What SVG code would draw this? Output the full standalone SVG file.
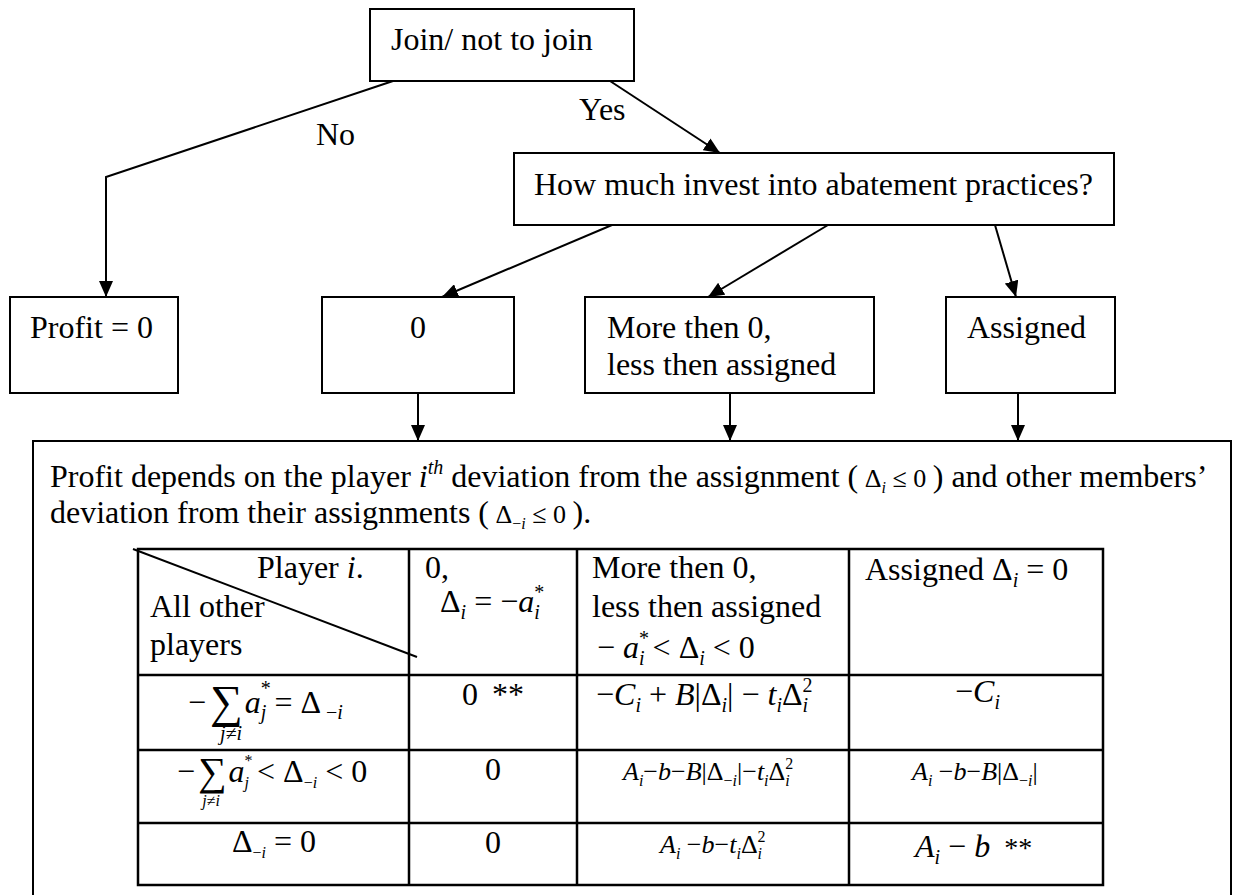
<svg xmlns="http://www.w3.org/2000/svg" width="1236" height="895" viewBox="0 0 1236 895">
<defs>
<style>
.t{font-family:"Liberation Serif","Times New Roman",serif;font-size:32px;fill:#000}
.box{fill:#fff;stroke:#000;stroke-width:2}
.ln{fill:none;stroke:#000;stroke-width:2}
.tb{fill:none;stroke:#000;stroke-width:2.5}
.i{font-style:italic}
.s{font-size:20px}
.m{font-size:26px}
.ms{font-size:16px}
</style>
<marker id="ah" viewBox="0 0 16 14" refX="16" refY="7" markerWidth="16" markerHeight="14" orient="auto" markerUnits="userSpaceOnUse"><path d="M0,0 L16,7 L0,14 z" fill="#000"/></marker>
</defs>
<rect width="1236" height="895" fill="#fff"/>

<g id="connectors">
<polyline class="ln" points="393,81 106,177 106,297" marker-end="url(#ah)"/>
<line class="ln" x1="610" y1="81" x2="720" y2="153" marker-end="url(#ah)"/>
<line class="ln" x1="612" y1="225" x2="442" y2="297" marker-end="url(#ah)"/>
<line class="ln" x1="828" y1="225" x2="708" y2="297" marker-end="url(#ah)"/>
<line class="ln" x1="995" y1="225" x2="1016" y2="297" marker-end="url(#ah)"/>
<line class="ln" x1="418" y1="393" x2="418" y2="441" marker-end="url(#ah)"/>
<line class="ln" x1="730" y1="393" x2="730" y2="441" marker-end="url(#ah)"/>
<line class="ln" x1="1018" y1="393" x2="1018" y2="441" marker-end="url(#ah)"/>
<text class="t" x="316" y="145">No</text>
<text class="t" x="579" y="120">Yes</text>
</g>

<g id="join"><rect class="box" x="370" y="9" width="264" height="72"/><text class="t" x="391" y="50">Join/ not to join</text></g>
<g id="invest"><rect class="box" x="514" y="153" width="600" height="72"/><text class="t" x="534" y="195">How much invest into abatement practices?</text></g>
<g id="profit0"><rect class="box" x="10" y="297" width="168" height="96"/><text class="t" x="30" y="338">Profit = 0</text></g>
<g id="zero"><rect class="box" x="322" y="297" width="192" height="96"/><text class="t" x="418" y="338" text-anchor="middle">0</text></g>
<g id="more"><rect class="box" x="585" y="297" width="289" height="96"/><text class="t" x="607" y="338">More then 0,</text><text class="t" x="607" y="375">less then assigned</text></g>
<g id="assigned"><rect class="box" x="946" y="297" width="169" height="96"/><text class="t" x="967" y="338">Assigned</text></g>

<g id="result">
<rect class="box" x="33" y="441" width="1198" height="480"/>
<text class="t" x="50" y="487">Profit depends on the player <tspan class="i">i</tspan><tspan class="i s" dy="-13">th</tspan><tspan dy="13"> deviation from the assignment (</tspan><tspan class="m"> Δ</tspan><tspan class="i ms" dy="6">i</tspan><tspan class="m" dy="-6"> ≤ 0 </tspan>) and other members’</text>
<text class="t" x="50" y="523">deviation from their assignments (<tspan class="m"> Δ</tspan><tspan class="ms" dy="6">−</tspan><tspan class="i ms">i</tspan><tspan class="m" dy="-6"> ≤ 0 </tspan>).</text>

<g id="table">
<rect class="tb" x="138" y="549" width="965" height="336"/>
<line class="tb" x1="409" y1="549" x2="409" y2="885"/>
<line class="tb" x1="577" y1="549" x2="577" y2="885"/>
<line class="tb" x1="849" y1="549" x2="849" y2="885"/>
<line class="tb" x1="138" y1="675" x2="1103" y2="675"/>
<line class="tb" x1="138" y1="750" x2="1103" y2="750"/>
<line class="tb" x1="138" y1="823" x2="1103" y2="823"/>
<line class="ln" x1="133" y1="549" x2="417" y2="657"/>

<text class="t" x="257" y="578">Player <tspan class="i">i</tspan>.</text>
<text class="t" x="150" y="617">All other</text>
<text class="t" x="150" y="655">players</text>

<text class="t" x="425" y="578">0,</text>
<text class="t" x="440" y="612">Δ<tspan class="i s" dy="7">i</tspan><tspan dy="-7"> = −</tspan><tspan class="i">a</tspan><tspan class="s" dy="-13">*</tspan><tspan class="i s" dx="-10" dy="20">i</tspan></text>

<text class="t" x="592" y="578">More then 0,</text>
<text class="t" x="592" y="617">less then assigned</text>
<text class="t" x="597" y="658">− <tspan class="i">a</tspan><tspan class="s" dy="-13">*</tspan><tspan class="i s" dx="-10" dy="20">i</tspan><tspan dy="-7"> &lt; Δ</tspan><tspan class="i s" dy="7">i</tspan><tspan dy="-7"> &lt; 0</tspan></text>

<text class="t" x="865" y="580">Assigned Δ<tspan class="i s" dy="7">i</tspan><tspan dy="-7"> = 0</tspan></text>

<text class="t" x="188" y="713">−<tspan font-size="46" dy="4" dx="4">∑</tspan><tspan class="i" dy="-4" dx="2">a</tspan><tspan class="s" dy="-18">*</tspan><tspan class="i s" dx="-10" dy="24">j</tspan><tspan dy="-6"> = Δ</tspan><tspan class="s" dy="6"> −</tspan><tspan class="i s">i</tspan></text>
<text class="t i s" x="231" y="740" text-anchor="middle">j≠i</text>
<text class="t" x="462" y="705">0 <tspan dx="6">**</tspan></text>
<text class="t" x="596" y="705">−<tspan class="i">C</tspan><tspan class="i s" dy="7">i</tspan><tspan dy="-7"> + </tspan><tspan class="i">B</tspan>|Δ<tspan class="i s" dy="7">i</tspan><tspan dy="-7">| − </tspan><tspan class="i">t</tspan><tspan class="i s" dy="7">i</tspan><tspan dy="-7">Δ</tspan><tspan class="s" dy="-13">2</tspan><tspan class="i s" dx="-10" dy="20">i</tspan></text>
<text class="t" x="955" y="702" font-size="30">−<tspan class="i">C</tspan><tspan class="i s" dy="7">i</tspan></text>

<text class="t" x="177" y="782" font-size="28">−<tspan font-size="40" dy="3" dx="3">∑</tspan><tspan class="i" dy="-3" dx="2">a</tspan><tspan class="ms" dy="-16">*</tspan><tspan class="i ms" dx="-8" dy="22">j</tspan><tspan dy="-6"> &lt; Δ</tspan><tspan class="ms" dy="6">−</tspan><tspan class="i ms">i</tspan><tspan dy="-6"> &lt; 0</tspan></text>
<text class="t i ms" x="211" y="806" text-anchor="middle">j≠i</text>
<text class="t" x="485" y="780">0</text>
<text class="t m" x="623" y="780"><tspan class="i">A</tspan><tspan class="i ms" dy="6">i</tspan><tspan dy="-6">−</tspan><tspan class="i">b</tspan>−<tspan class="i">B</tspan>|Δ<tspan class="ms" dy="6">−</tspan><tspan class="i ms">i</tspan><tspan dy="-6">|−</tspan><tspan class="i">t</tspan><tspan class="i ms" dy="6">i</tspan><tspan dy="-6">Δ</tspan><tspan class="ms" dy="-11">2</tspan><tspan class="i ms" dx="-8" dy="17">i</tspan></text>
<text class="t m" x="912" y="780"><tspan class="i">A</tspan><tspan class="i ms" dy="6">i</tspan><tspan dy="-6"> −</tspan><tspan class="i">b</tspan>−<tspan class="i">B</tspan>|Δ<tspan class="ms" dy="6">−</tspan><tspan class="i ms">i</tspan><tspan dy="-6">|</tspan></text>

<text class="t" x="232" y="852" font-size="28">Δ<tspan class="ms" dy="6">−</tspan><tspan class="i ms">i</tspan><tspan dy="-6"> = 0</tspan></text>
<text class="t" x="485" y="853">0</text>
<text class="t m" x="660" y="853"><tspan class="i">A</tspan><tspan class="i ms" dy="6">i</tspan><tspan dy="-6"> −</tspan><tspan class="i">b</tspan>−<tspan class="i">t</tspan><tspan class="i ms" dy="6">i</tspan><tspan dy="-6">Δ</tspan><tspan class="ms" dy="-11">2</tspan><tspan class="i ms" dx="-8" dy="17">i</tspan></text>
<text class="t" x="915" y="857"><tspan class="i">A</tspan><tspan class="i s" dy="7">i</tspan><tspan dy="-7"> − </tspan><tspan class="i">b</tspan><tspan dx="14" font-size="28">**</tspan></text>
</g>
</g>
</svg>
